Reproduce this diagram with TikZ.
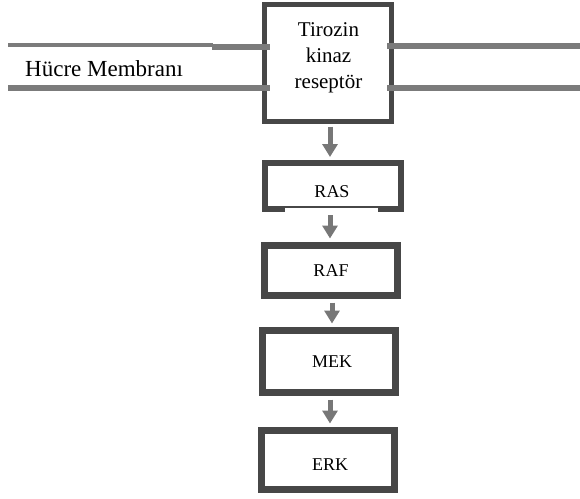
\documentclass[tikz,border=0pt]{standalone}
\usepackage{fontspec}
\setmainfont{Liberation Serif}
\usetikzlibrary{arrows.meta}
\definecolor{boxc}{HTML}{474747}
\definecolor{arrc}{HTML}{777777}
\definecolor{memc}{HTML}{7B7B7B}
\begin{document}
\begin{tikzpicture}[x=1pt,y=-1pt,
  box/.style={draw=boxc, fill=white, inner sep=0pt, rectangle},
  lbl/.style={inner sep=0pt, font=\fontsize{18}{22}\selectfont, anchor=base},
  arr/.style={draw=arrc, line width=5pt, -{Triangle[width=15pt,length=13pt]}},
  mem/.style={draw=memc, line width=6pt}]
\useasboundingbox (0,0) rectangle (580,498);
% receptor
\node[box, line width=5pt, minimum width=127pt, minimum height=117pt] (tk) at (328,63) {};
\node[inner sep=0pt, font=\fontsize{21}{25.7}\selectfont, align=center, anchor=north] (tkt) at (328.5,22.7) {Tirozin\\kinaz\\reseptör};
% membrane
\draw[draw=memc, line width=3.4pt] (8,45) -- (213,45);
\draw[mem] (212,47) -- (270,47);
\draw[mem] (8,87.5) -- (270,87.5);
\draw[mem] (387,46) -- (580,46);
\draw[mem] (387,87.5) -- (580,87.5);
\node[inner sep=0pt, font=\fontsize{23}{28}\selectfont, anchor=base west] (hm) at (25,76.7) {Hücre Membranı};
% boxes
\node[box, line width=6pt, minimum width=136pt, minimum height=46pt] (ras) at (333,186) {};
\fill[white] (285,207.5) rectangle (378,212.6);
\node[box, line width=7pt, minimum width=133pt, minimum height=50pt] (raf) at (331,270.5) {};
\node[box, line width=7pt, minimum width=133pt, minimum height=62pt] (mek) at (329,361.5) {};
\node[box, line width=7pt, minimum width=133pt, minimum height=59pt] (erk) at (328,460) {};
\node[lbl] (rast) at (332,197.3) {RAS};
\node[lbl] (raft) at (331,276) {RAF};
\node[lbl] (mekt) at (332,367) {MEK};
\node[lbl] (erkt) at (330,470) {ERK};
% arrows
\draw[arr, shorten <=2.5pt, shorten >=3pt] ([xshift=2pt]tk.south) -- ([xshift=-3pt]ras.north);
\draw[arr, shorten <=3pt, shorten >=3.5pt] ([xshift=-3pt]ras.south) -- ([xshift=-1pt]raf.north);
\draw[arr, shorten <=3.5pt, shorten >=3.5pt] ([xshift=1pt]raf.south) -- ([xshift=3pt]mek.north);
\draw[arr, shorten <=3.5pt, shorten >=3.5pt] ([xshift=1pt]mek.south) -- ([xshift=2pt]erk.north);
\end{tikzpicture}
\end{document}
